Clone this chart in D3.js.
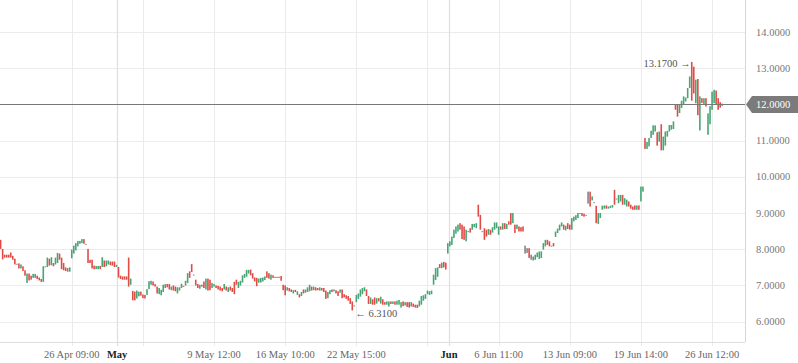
<!DOCTYPE html>
<html lang="en">
<head>
<meta charset="utf-8">
<title>Candles</title>
<script src="https://cdn.jsdelivr.net/npm/d3@7"></script>
<style>
  body { margin: 0; background: #fff; }
  svg { display: block; }
  text { font-family: "Liberation Serif", "Times New Roman", serif; }
</style>
</head>
<body>
<script>
// candle data, one entry per bar (index based x axis)
var opens = [
  8.26,8.01,7.85,7.85,7.85,7.91,7.82,7.74,7.60,7.61,7.47,7.53,7.42,7.07,7.33,7.27,7.21,7.21,7.27,7.22,
  7.18,7.10,7.53,7.51,7.74,7.56,7.62,7.58,7.62,7.88,7.77,7.62,7.50,7.38,7.38,7.75,7.88,7.97,8.08,8.15,
  8.17,8.28,8.15,8.01,7.71,7.71,7.55,7.45,7.45,7.54,7.51,7.69,7.53,7.58,7.66,7.66,7.66,7.51,7.51,7.27,
  7.25,7.25,7.25,7.77,7.02,6.85,6.83,6.64,6.70,6.83,6.75,6.74,6.74,6.90,
  7.02,7.11,7.04,6.97,6.76,6.73,6.82,6.93,7.04,7.04,6.87,7.00,6.97,6.78,6.86,6.93,6.99,7.00,7.07,7.39,
  7.59,7.30,7.16,7.04,6.91,7.02,7.11,6.89,7.19,7.16,6.93,6.97,7.00,6.99,6.97,6.93,6.89,6.97,6.82,6.97,
  6.93,7.10,7.16,6.93,7.00,7.08,7.21,7.24,7.33,7.44,7.34,7.22,7.21,7.08,7.08,7.11,7.15,7.39,7.34,7.16,
  7.28,7.24,7.21,7.24,7.26,7.02,7.00,6.86,6.93,6.89,6.78,6.88,6.74,
  6.76,6.71,6.89,6.80,6.82,6.84,6.97,6.87,6.95,6.93,6.86,6.93,6.93,6.86,6.65,6.76,6.89,6.84,6.87,6.84,
  6.80,6.89,6.76,6.73,6.71,6.65,6.56,6.45,6.54,6.63,6.69,6.76,6.84,6.89,6.71,6.49,6.62,6.67,6.50,6.65,
  6.50,6.62,6.54,6.47,6.42,6.56,6.49,6.56,6.47,6.47,6.39,6.56,6.45,6.54,6.54,6.42,6.50,6.47,6.47,6.42,
  6.47,6.58,6.63,6.76,6.74,6.76,7.02,7.15,7.24,7.59,7.48,7.65,7.63,
  7.88,8.08,8.12,8.31,8.43,8.49,8.72,8.68,8.63,8.22,8.50,8.58,8.54,8.61,8.58,9.23,8.95,8.50,8.58,8.54,
  8.40,8.54,8.46,8.54,8.58,8.40,8.63,8.54,8.72,8.56,8.77,9.00,8.72,8.68,8.56,8.63,8.61,8.63,8.10,8.03,
  8.03,7.85,7.80,7.71,7.78,7.73,7.76,7.99,8.08,8.26,8.22,8.10,8.17,8.34,8.45,8.52,8.63,8.68,8.52,8.72,
  8.68,8.54,8.77,8.81,8.86,9.00,9.00,8.98,8.95,9.26,9.59,9.35,9.30,9.20,8.70,8.86,
  9.09,9.12,9.21,9.12,9.14,9.15,9.64,9.40,9.27,9.32,9.50,9.23,9.18,9.32,9.23,9.18,9.21,9.09,9.21,9.32,
  9.59,11.07,10.77,10.84,11.07,11.16,11.25,11.23,10.97,11.45,10.73,10.86,11.11,11.25,11.30,11.32,11.99,11.99,11.76,11.90,
  11.99,12.08,12.17,12.45,13.17,13.04,12.03,12.70,11.28,12.17,11.99,12.17,11.16,11.45,11.85,12.03,12.38,12.17,12.06,11.96
];
var closes = [
  8.01,7.72,7.77,7.77,7.77,7.77,7.71,7.58,7.60,7.47,7.58,7.40,7.27,7.33,7.14,7.16,7.32,7.32,7.18,7.14,
  7.10,7.53,7.53,7.77,7.55,7.78,7.53,7.77,7.90,7.71,7.45,7.42,7.40,7.48,7.50,7.99,8.10,8.17,8.23,8.23,
  8.28,8.15,8.15,7.62,7.62,7.47,7.45,7.54,7.54,7.45,7.78,7.51,7.69,7.69,7.56,7.55,7.51,7.57,7.22,7.18,
  7.16,7.16,7.16,6.97,7.19,6.59,6.59,6.86,6.83,6.72,6.65,6.64,6.90,7.12,
  7.13,7.00,6.97,6.78,6.93,6.88,7.02,7.04,6.95,6.89,6.97,6.86,6.84,6.95,6.95,7.05,6.97,7.13,7.34,7.21,
  7.37,7.30,7.00,6.93,7.02,6.97,6.93,7.19,6.86,6.87,7.07,7.04,6.93,6.89,6.86,6.84,7.04,6.86,6.95,6.86,
  6.82,6.76,7.02,7.10,7.13,7.28,7.32,7.43,7.43,7.28,7.19,7.11,6.98,7.19,7.21,7.22,7.25,7.21,7.19,7.30,
  7.21,7.21,7.24,7.21,7.13,6.87,6.73,6.95,6.84,6.82,6.87,6.82,6.84,
  6.67,6.82,6.78,6.89,6.95,7.02,6.86,6.97,6.86,6.87,6.95,6.86,6.82,6.63,6.82,6.87,6.82,6.89,6.78,6.71,
  6.89,6.65,6.67,6.63,6.58,6.49,6.31,6.45,6.74,6.78,6.89,6.93,6.95,6.71,6.49,6.67,6.47,6.47,6.65,6.56,
  6.69,6.47,6.47,6.56,6.56,6.49,6.56,6.47,6.58,6.60,6.54,6.43,6.54,6.41,6.39,6.54,6.41,6.39,6.38,6.58,
  6.71,6.73,6.76,6.86,6.84,6.86,7.30,7.48,7.50,7.48,7.63,7.50,7.44,
  8.17,8.22,8.35,8.54,8.63,8.68,8.54,8.28,8.26,8.54,8.50,8.46,8.70,8.70,8.72,8.90,8.54,8.50,8.26,8.35,
  8.56,8.40,8.61,8.74,8.74,8.63,8.54,8.72,8.56,8.70,8.68,8.68,9.00,8.45,8.68,8.49,8.49,8.49,7.88,7.90,
  7.76,7.71,7.69,7.85,7.91,7.94,7.94,8.17,8.26,8.12,8.08,8.10,8.08,8.49,8.57,8.68,8.74,8.54,8.65,8.56,
  8.54,8.86,8.90,8.94,9.00,9.00,8.92,8.90,8.95,9.59,9.18,9.46,9.30,8.72,9.00,9.00,
  9.20,9.21,9.12,9.18,9.20,9.22,9.23,9.40,9.50,9.50,9.23,9.41,9.37,9.18,9.12,9.09,9.09,9.21,9.09,9.73,
  9.73,10.77,10.96,11.07,11.27,11.42,11.42,10.86,11.25,10.73,11.11,11.25,11.27,11.43,11.43,11.53,11.85,11.66,12.01,12.10,
  12.22,12.19,12.45,12.77,12.10,12.30,12.68,11.70,12.22,12.04,12.17,11.94,11.75,11.95,12.35,12.40,12.01,11.85,11.91,12.02
];
var greyBars = [33, 136, 258, 259, 261, 262, 289];

var yTicks = [6, 7, 8, 9, 10, 11, 12, 13, 14];
var xTickIdx = [35, 70, 105, 140, 175, 210, 245, 280, 315, 350];
var xTickLabels = ["26 Apr 09:00", "", "9 May 12:00", "16 May 10:00", "22 May 15:00", "",
                   "6 Jun 11:00", "13 Jun 09:00", "19 Jun 14:00", "26 Jun 12:00"];
var monthIdx = [57.3, 220.6];
var monthLabels = ["May", "Jun"];
var lastPrice = 12.0;

var width = 798, height = 363;
var plotW = 745, plotH = 342;

var x = d3.scaleLinear().domain([-0.3, 366.2]).range([0, plotW]);
var y = d3.scaleLinear().domain([5.44, 14.88]).range([plotH, 0]);

var svg = d3.select("body").append("svg")
    .attr("width", width)
    .attr("height", height);

// grid
svg.append("g").selectAll("line")
    .data(yTicks).enter().append("line")
    .attr("x1", 0).attr("x2", plotW)
    .attr("y1", function(d) { return Math.round(y(d)) + 0.5; })
    .attr("y2", function(d) { return Math.round(y(d)) + 0.5; })
    .style("stroke", "#ececec");

svg.append("g").selectAll("line")
    .data(xTickIdx).enter().append("line")
    .attr("x1", function(d) { return Math.round(x(d)) + 0.5; })
    .attr("x2", function(d) { return Math.round(x(d)) + 0.5; })
    .attr("y1", 0).attr("y2", plotH + 4)
    .style("stroke", "#ebebeb");

svg.append("g").selectAll("line")
    .data(monthIdx).enter().append("line")
    .attr("x1", function(d) { return Math.round(x(d)) + 0.5; })
    .attr("x2", function(d) { return Math.round(x(d)) + 0.5; })
    .attr("y1", 0).attr("y2", plotH + 4)
    .style("stroke", "#e0e0e0")
    .style("stroke-width", 1.3);

// axis borders
svg.append("line")
    .attr("x1", plotW + 0.5).attr("x2", plotW + 0.5)
    .attr("y1", 0).attr("y2", plotH)
    .style("stroke", "#d6d6d6");
svg.append("line")
    .attr("x1", 0).attr("x2", plotW)
    .attr("y1", plotH + 0.5).attr("y2", plotH + 0.5)
    .style("stroke", "#dedede");

// y labels
svg.append("g").selectAll("text")
    .data(yTicks).enter().append("text")
    .attr("x", plotW + 11)
    .attr("y", function(d) { return y(d); })
    .attr("dy", "0.35em")
    .style("font-size", "10.5px")
    .style("fill", "#777")
    .text(function(d) { return d.toFixed(4); });

// x labels
svg.append("g").selectAll("text")
    .data(xTickIdx).enter().append("text")
    .attr("x", function(d) { return x(d); })
    .attr("y", 354)
    .attr("dy", "0.35em")
    .attr("text-anchor", "middle")
    .style("font-size", "10.5px")
    .style("fill", "#666")
    .text(function(d, i) { return xTickLabels[i]; });

svg.append("g").selectAll("text")
    .data(monthIdx).enter().append("text")
    .attr("x", function(d) { return x(d); })
    .attr("y", 354)
    .attr("dy", "0.35em")
    .attr("text-anchor", "middle")
    .style("font-size", "10.5px")
    .style("font-weight", "bold")
    .style("fill", "#222")
    .text(function(d, i) { return monthLabels[i]; });

// candles
var idx = d3.range(opens.length);
svg.append("g").selectAll("rect")
    .data(idx).enter().append("rect")
    .attr("x", function(i) { return x(i) - 0.8; })
    .attr("width", 1.6)
    .attr("y", function(i) { return y(Math.max(opens[i], closes[i])); })
    .attr("height", function(i) { return Math.max(1, Math.abs(y(opens[i]) - y(closes[i]))); })
    .style("fill", function(i) {
        if (greyBars.indexOf(i) >= 0 || opens[i] == closes[i]) return "#858585";
        return closes[i] > opens[i] ? "#46a575" : "#e24a46";
    });

// last price line + tag
var yl = Math.round(y(lastPrice)) + 0.5;
svg.append("line")
    .attr("x1", 0).attr("x2", plotW)
    .attr("y1", yl).attr("y2", yl)
    .style("stroke", "#777");

svg.append("path")
    .attr("d", "M" + (plotW + 1) + "," + yl + "L" + (plotW + 7) + "," + (yl - 8.5) +
               "L" + width + "," + (yl - 8.5) + "L" + width + "," + (yl + 8.5) +
               "L" + (plotW + 7) + "," + (yl + 8.5) + "Z")
    .style("fill", "#7b7b7b");
svg.append("text")
    .attr("x", plotW + 11)
    .attr("y", yl)
    .attr("dy", "0.35em")
    .style("font-size", "10.5px")
    .style("fill", "#fff")
    .text(lastPrice.toFixed(4));

// high / low markers
var highs = idx.map(function(i) { return Math.max(opens[i], closes[i]); });
var lows = idx.map(function(i) { return Math.min(opens[i], closes[i]); });
var iMax = d3.maxIndex(highs), iMin = d3.minIndex(lows);

svg.append("text")
    .attr("x", x(iMax) - 1)
    .attr("y", y(highs[iMax]) + 1.5)
    .attr("dy", "0.35em")
    .attr("text-anchor", "end")
    .style("font-size", "10.5px")
    .style("fill", "#555")
    .text(highs[iMax].toFixed(4) + " \u2192");

svg.append("text")
    .attr("x", x(iMin) + 3)
    .attr("y", y(lows[iMin]) + 2.5)
    .attr("dy", "0.35em")
    .style("font-size", "10.5px")
    .style("fill", "#555")
    .text("\u2190 " + lows[iMin].toFixed(4));
</script>
</body>
</html>
